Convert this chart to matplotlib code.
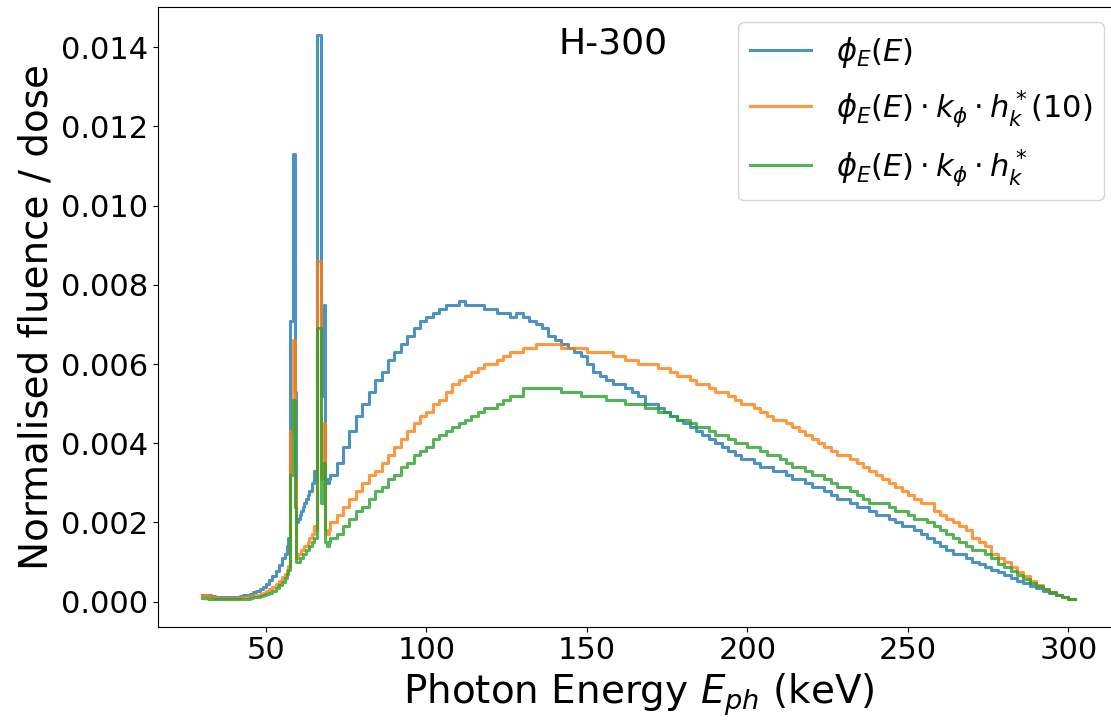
import numpy as np
import matplotlib
matplotlib.use('Agg')
import matplotlib.pyplot as plt

# bin edges (keV): 1 keV below 56, 0.5 keV in the fluorescence-peak region, 2 keV above 70
edges = np.concatenate([np.arange(30, 56), np.arange(56, 70, 0.5), np.arange(70, 303, 2)])

# phi_E(E)
fluence = [
    # 30 - 55 keV
    0.00016, 0.00018, 0.00016, 0.00014, 0.00013, 0.00012, 0.00012, 0.00012, 0.00012, 0.00012,
    0.00012, 0.00013, 0.00014, 0.00016, 0.00018, 0.00020, 0.00024, 0.00028, 0.00032, 0.00038,
    0.00045, 0.00055, 0.00065, 0.00078, 0.00092, 0.0011,
    # 56 - 69.5 keV
    0.0012, 0.0014, 0.0016, 0.0071, 0.0071, 0.0113, 0.0053, 0.0020, 0.0021, 0.0022,
    0.0023, 0.0024, 0.0025, 0.0026, 0.0027, 0.0028, 0.0028, 0.0030, 0.0033, 0.0031,
    0.0143, 0.0143, 0.0052, 0.0052, 0.0075, 0.0031, 0.0030, 0.0031,
    # 70 - 302 keV
    0.0032, 0.0035, 0.0039, 0.0043, 0.0047, 0.0050, 0.0053, 0.0056, 0.0058, 0.0061,
    0.0063, 0.0065, 0.0067, 0.0069, 0.0071, 0.0072, 0.0073, 0.0074, 0.0075, 0.0075,
    0.0076, 0.0075, 0.0075, 0.0075, 0.0074, 0.0074, 0.0073, 0.0073, 0.0072, 0.0073,
    0.0072, 0.0071, 0.0070, 0.0069, 0.0067, 0.0066, 0.0065, 0.0064, 0.0063, 0.0062,
    0.0060, 0.0058, 0.0057, 0.0056, 0.0055, 0.0055, 0.0054, 0.0053, 0.0052, 0.0050,
    0.0050, 0.0049, 0.0048, 0.0047, 0.0046, 0.0045, 0.0044, 0.0043, 0.0042, 0.0041,
    0.0040, 0.0039, 0.0038, 0.0037, 0.0036, 0.0036, 0.0035, 0.0034, 0.0034, 0.0033,
    0.0033, 0.0032, 0.0031, 0.0031, 0.0030, 0.0029, 0.0029, 0.0028, 0.0027, 0.0026,
    0.0026, 0.0025, 0.0024, 0.0024, 0.0023, 0.0022, 0.0022, 0.0021, 0.0020, 0.0019,
    0.0019, 0.0018, 0.0017, 0.0016, 0.0015, 0.0014, 0.0013, 0.0012, 0.0012, 0.0011,
    0.0010, 0.00095, 0.00088, 0.00080, 0.00074, 0.00067, 0.00060, 0.00053, 0.00046, 0.00040,
    0.00034, 0.00028, 0.00022, 0.00016, 0.00011, 0.00008,
]

# phi_E(E) * k_phi * h_k^*(10)
dose_h10 = [
    0.00016, 0.00016, 0.00014, 0.00012, 0.00010, 0.00010, 0.00010, 0.00010, 0.00010, 0.00010,
    0.00010, 0.00010, 0.00011, 0.00012, 0.00013, 0.00014, 0.00016, 0.00018, 0.00020, 0.00023,
    0.00027, 0.00032, 0.00038, 0.00045, 0.00053, 0.00062,
    0.0007, 0.0008, 0.0009, 0.0043, 0.0043, 0.0066, 0.0031, 0.0011, 0.0012, 0.0012,
    0.0013, 0.0013, 0.0014, 0.0014, 0.0015, 0.0016, 0.0016, 0.0017, 0.0019, 0.0018,
    0.0086, 0.0086, 0.0031, 0.0031, 0.0045, 0.0018, 0.0017, 0.0018,
    0.0020, 0.0022, 0.0024, 0.0026, 0.0028, 0.0030, 0.0032, 0.0033, 0.0035, 0.0037,
    0.0039, 0.0041, 0.0043, 0.0045, 0.0047, 0.0048, 0.0050, 0.0051, 0.0053, 0.0055,
    0.0056, 0.0057, 0.0058, 0.0059, 0.0060, 0.0060, 0.0061, 0.0062, 0.0063, 0.0063,
    0.0064, 0.0064, 0.0065, 0.0065, 0.0065, 0.0065, 0.0064, 0.0064, 0.0064, 0.0064,
    0.0063, 0.0063, 0.0063, 0.0063, 0.0062, 0.0062, 0.0061, 0.0061, 0.0060, 0.0060,
    0.0060, 0.0059, 0.0059, 0.0058, 0.0057, 0.0057, 0.0056, 0.0055, 0.0055, 0.0054,
    0.0053, 0.0053, 0.0052, 0.0051, 0.0050, 0.0050, 0.0049, 0.0048, 0.0047, 0.0046,
    0.0046, 0.0045, 0.0044, 0.0043, 0.0042, 0.0041, 0.0040, 0.0039, 0.0038, 0.0037,
    0.0037, 0.0036, 0.0035, 0.0034, 0.0033, 0.0032, 0.0031, 0.0030, 0.0029, 0.0028,
    0.0027, 0.0026, 0.0025, 0.0025, 0.0023, 0.0022, 0.0021, 0.0020, 0.0019, 0.0018,
    0.0016, 0.0015, 0.0014, 0.0012, 0.0011, 0.0010, 0.00088, 0.00076, 0.00064, 0.00052,
    0.00042, 0.00033, 0.00025, 0.00018, 0.00012, 0.00008,
]

# phi_E(E) * k_phi * h_k^*
dose_hk = [
    0.00010, 0.00010, 0.00008, 0.00008, 0.00008, 0.00008, 0.00008, 0.00008, 0.00008, 0.00008,
    0.00008, 0.00008, 0.00008, 0.00008, 0.00008, 0.00010, 0.00011, 0.00012, 0.00014, 0.00016,
    0.00019, 0.00023, 0.00028, 0.00034, 0.00041, 0.00050,
    0.0006, 0.0007, 0.0008, 0.0032, 0.0032, 0.0051, 0.0024, 0.0010, 0.0010, 0.0011,
    0.0011, 0.0012, 0.0012, 0.0013, 0.0013, 0.0014, 0.0014, 0.0015, 0.0016, 0.0016,
    0.0069, 0.0069, 0.0025, 0.0025, 0.0035, 0.0015, 0.0014, 0.0015,
    0.0016, 0.0017, 0.0019, 0.0021, 0.0023, 0.0024, 0.0026, 0.0028, 0.0029, 0.0031,
    0.0032, 0.0034, 0.0035, 0.0037, 0.0038, 0.0039, 0.0041, 0.0042, 0.0043, 0.0044,
    0.0045, 0.0046, 0.0047, 0.0048, 0.0049, 0.0049, 0.0050, 0.0051, 0.0052, 0.0052,
    0.0054, 0.0054, 0.0054, 0.0054, 0.0054, 0.0054, 0.0053, 0.0053, 0.0053, 0.0052,
    0.0052, 0.0052, 0.0052, 0.0051, 0.0051, 0.0051, 0.0050, 0.0050, 0.0050, 0.0049,
    0.0049, 0.0048, 0.0048, 0.0047, 0.0046, 0.0046, 0.0045, 0.0044, 0.0044, 0.0043,
    0.0042, 0.0042, 0.0041, 0.0040, 0.0040, 0.0039, 0.0039, 0.0038, 0.0037, 0.0037,
    0.0036, 0.0035, 0.0034, 0.0034, 0.0033, 0.0032, 0.0032, 0.0031, 0.0030, 0.0029,
    0.0029, 0.0028, 0.0027, 0.0026, 0.0025, 0.0025, 0.0025, 0.0024, 0.0023, 0.0023,
    0.0022, 0.0021, 0.0021, 0.0020, 0.0019, 0.0018, 0.0017, 0.0016, 0.0015, 0.0014,
    0.0013, 0.0013, 0.0012, 0.0011, 0.00095, 0.00088, 0.00078, 0.00068, 0.00058, 0.00048,
    0.00040, 0.00032, 0.00024, 0.00017, 0.00012, 0.00008,
]

labels = [r'$\phi_E(E)$',
          r'$\phi_E(E) \cdot k_\phi \cdot h_k^*(10)$',
          r'$\phi_E(E) \cdot k_\phi \cdot h_k^*$']

fig = plt.figure(figsize=(11.11, 7.22), dpi=100)
ax = fig.add_axes([0.1423, 0.132, 0.8656, 0.858])

for vals, lab in zip([fluence, dose_h10, dose_hk], labels):
    ax.step(edges, np.append(vals, vals[-1]), where='post', lw=2.2, alpha=0.8, label=lab)

ax.set_xlim(16.4, 316)
ax.set_xlabel(r'Photon Energy $E_{ph}$ (keV)', fontsize=28)
ax.set_ylabel('Normalised fluence / dose', fontsize=28)
ax.tick_params(labelsize=22)
ax.text(0.4164, 0.926, 'H-300', transform=ax.transAxes, fontsize=26, va='baseline')
ax.legend(loc='upper right', fontsize=22, labelspacing=0.6)

fig.savefig('out.png', dpi=100)
